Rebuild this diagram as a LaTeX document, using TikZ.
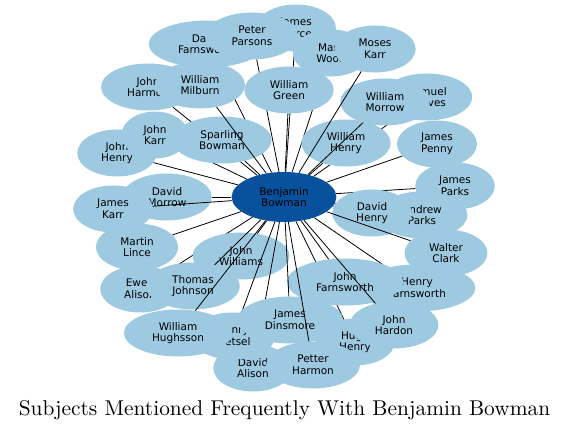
\documentclass[tikz,border=0pt]{standalone}
\usepackage{fontspec}
\newfontfamily\namefont{DejaVu Sans}
\newfontfamily\titlefont{lmroman10-regular}[Extension=.otf]
\definecolor{gvblue}{RGB}{158,202,225}
\definecolor{gvnavy}{RGB}{8,81,156}
\usetikzlibrary{shapes.geometric}
\tikzset{
  person/.style={ellipse,fill=gvblue,font=\namefont\fontsize{10.5}{11.7}\selectfont,align=center,inner xsep=12.3pt,inner ysep=0pt,minimum height=47pt},
  hub/.style={person,fill=gvnavy,minimum height=50pt},
  link/.style={black,line width=0.8pt}
}

\begin{document}
\begin{tikzpicture}[x=1pt,y=-1pt]
  \useasboundingbox (0,0) rectangle (569,430);
  \node[hub] (bowman) at (284,197) {Benjamin\\Bowman};
  % each name is drawn, then its link, so later names cover earlier links
  \node[person] (dfarnsworth) at (207,44) {David\\Farnsworth};
  \draw[link] (bowman) -- (dfarnsworth);
  \node[person] (jpierce) at (296,28) {James\\Pierce};
  \draw[link] (bowman) -- (jpierce);
  \node[person] (pparsons) at (252,36) {Peter\\Parsons};
  \draw[link] (bowman) -- (pparsons);
  \node[person] (mwood) at (331,53) {Mark\\Wood};
  \draw[link] (bowman) -- (mwood);
  \node[person] (wgreen) at (289,90) {William\\Green};
  \draw[link] (bowman) -- (wgreen);
  \node[person] (sreeves) at (427,97) {Samuel\\Reeves};
  \draw[link] (bowman) -- (sreeves);
  \node[person] (whenry) at (346,143) {William\\Henry};
  \draw[link] (bowman) -- (whenry);
  \node[person] (wmorrow) at (385,102) {William\\Morrow};
  \draw[link] (bowman) -- (wmorrow);
  \node[person] (mkarr) at (375,49) {Moses\\Karr};
  \draw[link] (bowman) -- (mkarr);
  \node[person] (jharmon) at (148,87) {John\\Harmon};
  \draw[link] (bowman) -- (jharmon);
  \node[person] (johnhenry) at (117,153) {John\\Henry};
  \draw[link] (bowman) -- (johnhenry);
  \node[person] (johnkarr) at (155,135) {John\\Karr};
  \draw[link] (bowman) -- (johnkarr);
  \node[person] (sbowman) at (222,140) {Sparling\\Bowman};
  \draw[link] (bowman) -- (sbowman);
  \node[person] (wmilburn) at (200,85) {William\\Milburn};
  \draw[link] (bowman) -- (wmilburn);
  \node[person] (jpenny) at (437,144) {James\\Penny};
  \draw[link] (bowman) -- (jpenny);
  \node[person] (jparks) at (455,186) {James\\Parks};
  \draw[link] (bowman) -- (jparks);
  \node[person] (aparks) at (422,215) {Andrew\\Parks};
  \draw[link] (bowman) -- (aparks);
  \node[person] (dhenry) at (372,213) {David\\Henry};
  \draw[link] (bowman) -- (dhenry);
  \node[person] (wclark) at (446,253) {Walter\\Clark};
  \draw[link] (bowman) -- (wclark);
  \node[person] (hfarnsworth) at (417,288) {Henry\\Farnsworth};
  \draw[link] (bowman) -- (hfarnsworth);
  \node[person] (hhenry) at (355,342) {Hugh\\Henry};
  \draw[link] (bowman) -- (hhenry);
  \node[person] (jfarnsworth) at (345,282) {John\\Farnsworth};
  \draw[link] (bowman) -- (jfarnsworth);
  \node[person] (jhardon) at (394,325) {John\\Hardon};
  \draw[link] (bowman) -- (jhardon);
  \node[person] (dmorrow) at (167,197) {David\\Morrow};
  \draw[link] (bowman) -- (dmorrow);
  \node[person] (jkarr) at (113,209) {James\\Karr};
  \draw[link] (bowman) -- (jkarr);
  \node[person] (mlince) at (137,247) {Martin\\Lince};
  \draw[link] (bowman) -- (mlince);
  \node[person] (ealison) at (140,289) {Ewen\\Alison};
  \draw[link] (bowman) -- (ealison);
  \node[person] (jwilliams) at (241,256) {John\\Williams};
  \draw[link] (bowman) -- (jwilliams);
  \node[person] (tjohnson) at (193,286) {Thomas\\Johnson};
  \draw[link] (bowman) -- (tjohnson);
  \node[person] (dalison) at (253,368) {David\\Alison};
  \draw[link] (bowman) -- (dalison);
  \node[person] (hwetsel) at (233,336) {Henry\\Wetsel};
  \draw[link] (bowman) -- (hwetsel);
  \node[person] (whughsson) at (178,333) {William\\Hughsson};
  \draw[link] (bowman) -- (whughsson);
  \node[person] (jdinsmore) at (290,320) {James\\Dinsmore};
  \draw[link] (bowman) -- (jdinsmore);
  \node[person] (pharmon) at (313,365) {Petter\\Harmon};
  \draw[link] (bowman) -- (pharmon);
  \node[font=\titlefont\fontsize{21.4}{25}\selectfont,anchor=base] (title) at (284.5,415) {Subjects Mentioned Frequently With Benjamin Bowman};
\end{tikzpicture}
\end{document}
